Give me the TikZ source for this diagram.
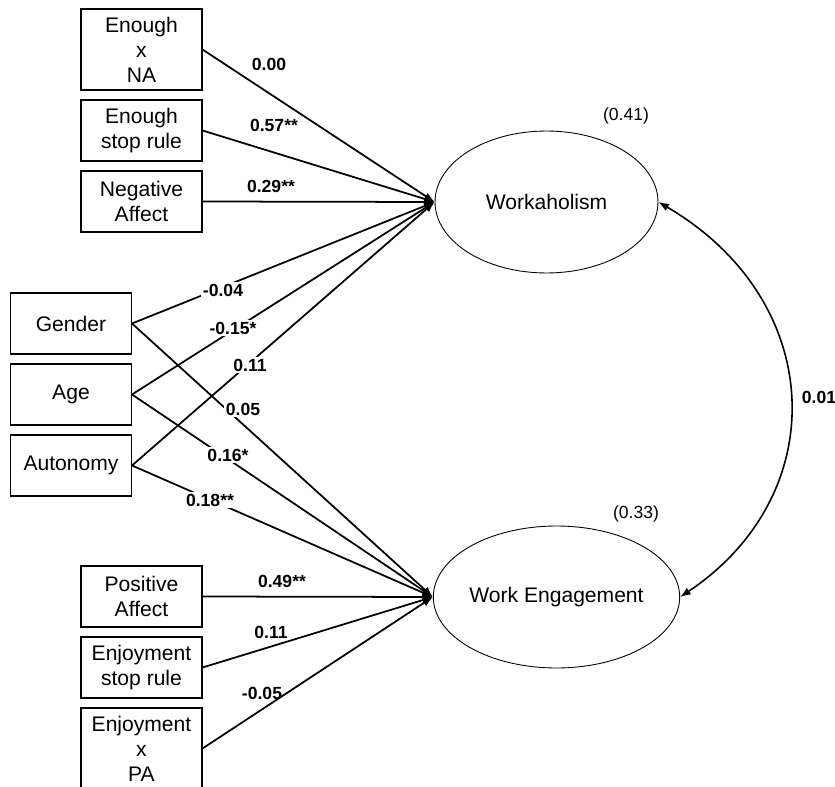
\documentclass[tikz,border=0pt]{standalone}
\usepackage{fontspec}
\setmainfont{Liberation Sans}
\usetikzlibrary{arrows.meta, shapes.geometric}

\tikzset{
  varbox/.style={draw, line width=0.6pt, align=center, minimum width=2.42cm, minimum height=1.22cm, inner sep=0pt, font=\fontsize{12}{14.2}\selectfont},
  tallbox/.style={varbox, minimum height=1.62cm},
  latent/.style={draw, ellipse, line width=0.5pt, minimum width=4.46cm, minimum height=2.84cm, inner sep=0pt, font=\fontsize{12}{14.2}\selectfont},
  regline/.style={line width=1pt, -{Latex[length=6pt,width=4.5pt]}},
  coef/.style={font=\bfseries\fontsize{10}{12}\selectfont, inner sep=1pt},
  cutcoef/.style={coef, fill=white},
  rsq/.style={font=\fontsize{10}{12}\selectfont}
}

\begin{document}
\begin{tikzpicture}[x=0.02cm, y=-0.02cm]
  \useasboundingbox (0,0) rectangle (835,787);

  \node[tallbox] (enna)    at (141.5,49.5)  {Enough\\x\\NA};
  \node[varbox]  (enstop)  at (141.5,130.5) {Enough\\stop rule};
  \node[varbox]  (negaff)  at (141.5,201.5) {Negative\\Affect};
  \node[varbox]  (gender)  at (71,323.5)    {Gender};
  \node[varbox]  (age)     at (71,394.5)    {Age};
  \node[varbox]  (auton)   at (71,465.5)    {Autonomy};
  \node[varbox]  (posaff)  at (141.5,596.5) {Positive\\Affect};
  \node[varbox]  (enjstop) at (141.5,667.5) {Enjoyment\\stop rule};
  \node[tallbox] (enjpa)   at (141.5,748.5) {Enjoyment\\x\\PA};

  \node[latent] (wh) at (546.5,202) {Workaholism};
  \node[latent] (we) at (556.5,597) {Work Engagement};

  \foreach \v in {enna, enstop, negaff, gender, age, auton}
    \draw[regline] (\v.east) -- (wh.west);
  \foreach \v in {gender, age, auton, posaff, enjstop, enjpa}
    \draw[regline] (\v.east) -- (we.west);

  \draw[line width=0.9pt, {Latex[length=6pt,width=4.5pt]}-{Latex[length=6pt,width=4.5pt]}]
    (wh.east) .. controls (826,300) and (834,494) .. (we.east);

  \node[coef] (lenna)   at (269,64)  {0.00};
  \node[coef] (lenstop) at (274,125) {0.57**};
  \node[coef] (lnegaff) at (271,186) {0.29**};
  \node[cutcoef] (lgenwh) at (223,290) {-0.04};
  \node[cutcoef] (lagewh) at (233,328) {-0.15*};
  \node[cutcoef] (lautwh) at (250,365) {0.11};
  \node[cutcoef] (lgenwe) at (243,409) {0.05};
  \node[cutcoef] (lagewe) at (228,455) {0.16*};
  \node[cutcoef] (lautwe) at (210,500) {0.18**};
  \node[coef] (lposaff)  at (282,581) {0.49**};
  \node[coef] (lenjstop) at (271,632) {0.11};
  \node[coef] (lenjpa)   at (262,693) {-0.05};
  \node[coef] (lcov)     at (819,397) {0.01};

  \node[rsq] (rwh) at (626,116) {(0.41)};
  \node[rsq] (rwe) at (636,514) {(0.33)};
\end{tikzpicture}
\end{document}
